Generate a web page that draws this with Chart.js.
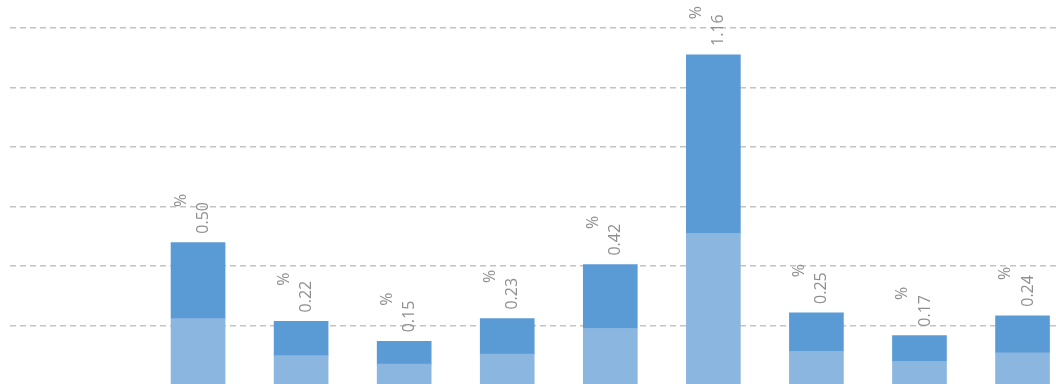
<!DOCTYPE html>
<html>
<head>
<meta charset="utf-8">
<script src="https://cdn.jsdelivr.net/npm/chart.js@4/dist/chart.umd.min.js"></script>
<style>
  html, body { margin: 0; padding: 0; background: #ffffff; }
  #wrap { width: 1056px; height: 384px; position: relative; }
</style>
</head>
<body>
<div id="wrap"><canvas id="c"></canvas></div>
<script>
// ---- data ----
const categories = ["1", "2", "3", "4", "5", "6", "7", "8", "9"];
const lowerValues = [0.23, 0.10, 0.07, 0.105, 0.195, 0.53, 0.115, 0.08, 0.11];
const upperValues = [0.267, 0.12, 0.08, 0.125, 0.225, 0.627, 0.135, 0.09, 0.13];
const totalLabels = [0.50, 0.22, 0.15, 0.23, 0.42, 1.16, 0.25, 0.17, 0.24];
const gridValues = [0.205, 0.415, 0.624, 0.833, 1.043, 1.252];

const toPoints = arr => arr.map((v, i) => ({ x: i, y: v }));

const labelPlugin = {
  id: 'rotatedLabels',
  afterDatasetsDraw(chart) {
    const ctx = chart.ctx;
    const meta = chart.getDatasetMeta(1);
    ctx.save();
    ctx.fillStyle = '#8f8f8f';
    ctx.font = '16px "Open Sans", sans-serif';
    ctx.textAlign = 'left';
    ctx.textBaseline = 'middle';
    meta.data.forEach((bar, i) => {
      const num = totalLabels[i].toFixed(2);
      const w = ctx.measureText(num).width;
      const start = bar.y - 9;
      // number
      ctx.save();
      ctx.translate(bar.x + 4.5, start);
      ctx.rotate(-Math.PI / 2);
      ctx.fillText(num, 0, 1);
      ctx.restore();
      // percent sign
      ctx.save();
      ctx.translate(bar.x - 18, start - w + 5);
      ctx.rotate(-Math.PI / 2);
      ctx.fillText('%', 0, 1);
      ctx.restore();
    });
    ctx.restore();
  }
};

new Chart(document.getElementById('c'), {
  type: 'bar',
  data: {
    labels: categories,
    datasets: [
      { label: 'lower', data: toPoints(lowerValues), backgroundColor: '#8ab6e0', barThickness: 54 },
      { label: 'upper', data: toPoints(upperValues), backgroundColor: '#5b9bd5', barThickness: 54 }
    ]
  },
  options: {
    responsive: true,
    maintainAspectRatio: false,
    animation: false,
    layout: { padding: { left: 10, right: 0, top: 0, bottom: 0 } },
    plugins: { legend: { display: false }, tooltip: { enabled: false } },
    scales: {
      x: {
        type: 'linear',
        stacked: true,
        display: false,
        offset: false,
        min: (10 - 198.05) / 103.06,
        max: (1056 - 198.05) / 103.06
      },
      y: {
        stacked: true,
        min: 0,
        max: 1.35,
        afterBuildTicks: (scale) => { scale.ticks = gridValues.map(v => ({ value: v })); },
        ticks: { display: false },
        border: { display: false, dash: [6, 4] },
        grid: { color: '#c3c3c3', lineWidth: 1.4, drawTicks: false }
      }
    }
  },
  plugins: [labelPlugin]
});
</script>
</body>
</html>
